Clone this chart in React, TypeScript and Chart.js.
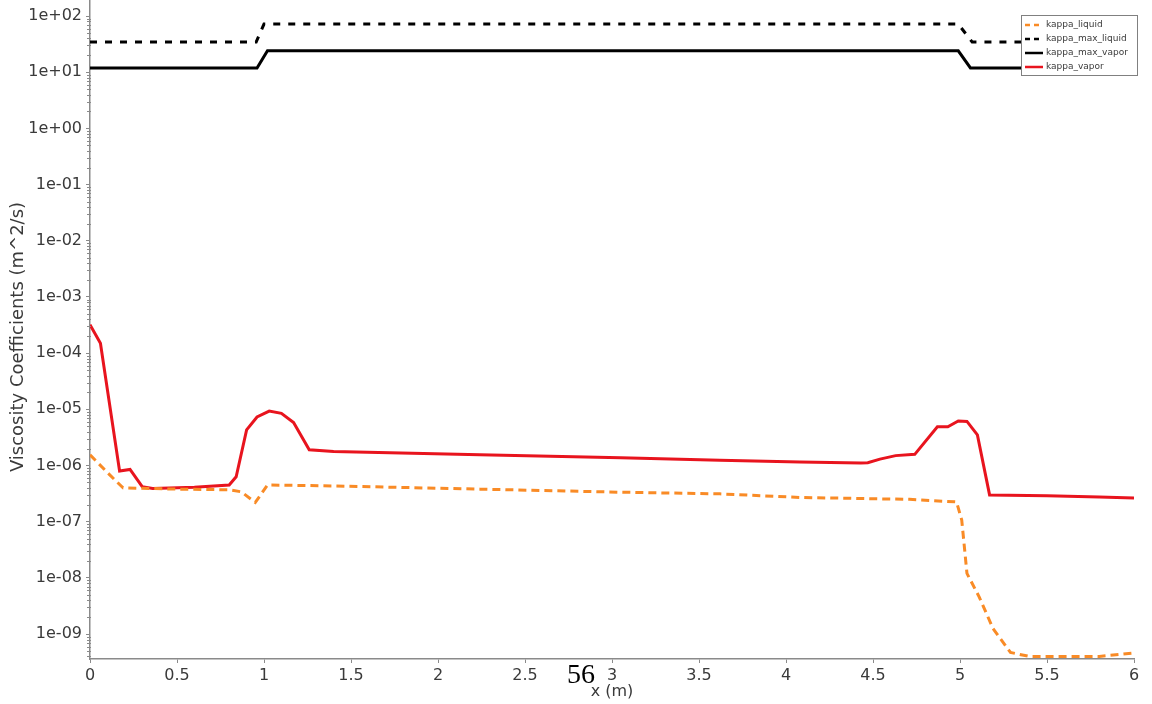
import React, { useEffect, useRef } from 'react';
import { Chart, registerables } from 'chart.js';

Chart.register(...registerables);

// ---- data ----
const vaporX = [0, 0.06, 0.17, 0.23, 0.3, 0.36, 0.6, 0.8, 0.84, 0.9, 0.96, 1.03, 1.1, 1.17, 1.26, 1.4, 2.24, 3.05, 3.62, 4.08, 4.43, 4.47, 4.54, 4.63, 4.74, 4.87, 4.93, 4.99, 5.04, 5.1, 5.17, 5.5, 5.8, 6.0];
const vaporY = [3.2e-4, 1.5e-4, 8.0e-7, 8.5e-7, 4.2e-7, 3.9e-7, 4.1e-7, 4.5e-7, 6.3e-7, 4.3e-6, 7.3e-6, 9.3e-6, 8.5e-6, 5.8e-6, 1.9e-6, 1.77e-6, 1.55e-6, 1.38e-6, 1.24e-6, 1.16e-6, 1.11e-6, 1.12e-6, 1.3e-6, 1.5e-6, 1.58e-6, 4.9e-6, 4.9e-6, 6.2e-6, 6.1e-6, 3.5e-6, 3.0e-7, 2.9e-7, 2.75e-7, 2.65e-7];

const liquidX = [0, 0.1, 0.19, 0.5, 0.8, 0.87, 0.95, 1.02, 1.4, 2.24, 3.05, 3.62, 4.08, 4.71, 4.98, 5.01, 5.04, 5.11, 5.19, 5.29, 5.4, 5.8, 6.0];
const liquidY = [1.55e-6, 7.5e-7, 4.0e-7, 3.8e-7, 3.7e-7, 3.4e-7, 2.2e-7, 4.5e-7, 4.33e-7, 3.8e-7, 3.35e-7, 3.13e-7, 2.7e-7, 2.5e-7, 2.25e-7, 1.07e-7, 1.2e-8, 4.6e-9, 1.25e-9, 4.7e-10, 4.0e-10, 4.0e-10, 4.6e-10];

const maxLiquidX = [0, 0.955, 1.0, 4.99, 5.07, 6.0];
const maxLiquidY = [34.5, 34.5, 72, 72, 34.5, 34.5];

const maxVaporX = [0, 0.96, 1.02, 4.99, 5.06, 6.0];
const maxVaporY = [11.9, 11.9, 24.1, 24.1, 11.9, 11.9];

const seriesNames = ['kappa_liquid', 'kappa_max_liquid', 'kappa_max_vapor', 'kappa_vapor'];

const xTickValues = [0, 0.5, 1, 1.5, 2, 2.5, 3, 3.5, 4, 4.5, 5, 5.5, 6];
const xTickLabels = ['0', '0.5', '1', '1.5', '2', '2.5', '3', '3.5', '4', '4.5', '5', '5.5', '6'];
const yTickValues = [1e-9, 1e-8, 1e-7, 1e-6, 1e-5, 1e-4, 1e-3, 1e-2, 1e-1, 1e0, 1e1, 1e2];
const yTickLabels = ['1e-09', '1e-08', '1e-07', '1e-06', '1e-05', '1e-04', '1e-03', '1e-02', '1e-01', '1e+00', '1e+01', '1e+02'];

const xMin = 0;
const xMax = 6;
const yMin = 3.6e-10;
const yMax = 193;

const xTitle = 'x (m)';
const yTitle = 'Viscosity Coefficients (m^2/s)';
const pageNumber = '56';

const FONT = '"DejaVu Sans", sans-serif';
const TEXT = '#3a3a3a';
const AXIS = '#8a8a8a';

const zip = (xs: number[], ys: number[]) => xs.map((x, i) => ({ x, y: ys[i] }));

const overlayPlugin = {
  id: 'overlay',
  afterDraw(chart: any) {
    const ctx = chart.ctx as CanvasRenderingContext2D;
    const ys = chart.scales.y;
    const ca = chart.chartArea;
    ctx.save();
    // minor log ticks
    ctx.strokeStyle = AXIS;
    ctx.lineWidth = 1;
    for (let k = -10; k <= 2; k++) {
      for (let m = 2; m <= 9; m++) {
        const v = m * Math.pow(10, k);
        if (v < yMin || v > yMax) continue;
        const py = Math.round(ys.getPixelForValue(v)) + 0.5;
        ctx.beginPath();
        ctx.moveTo(ca.left - 3, py);
        ctx.lineTo(ca.left + 1, py);
        ctx.stroke();
      }
    }
    // y title
    ctx.fillStyle = TEXT;
    ctx.font = `18px ${FONT}`;
    ctx.textAlign = 'center';
    ctx.textBaseline = 'middle';
    ctx.save();
    ctx.translate(18, 337);
    ctx.rotate(-Math.PI / 2);
    ctx.fillText(yTitle, 0, 0);
    ctx.restore();
    // x title
    ctx.font = `16px ${FONT}`;
    ctx.fillText(xTitle, 612, 692);
    // page number
    ctx.fillStyle = '#000';
    ctx.font = '28px "Liberation Serif", serif';
    ctx.fillText(pageNumber, 581, 676);

    // legend
    const lx = 1021, ly = 15, lw = 116, lh = 60;
    ctx.fillStyle = '#fff';
    ctx.fillRect(lx, ly, lw, lh);
    ctx.strokeStyle = '#808080';
    ctx.lineWidth = 1;
    ctx.strokeRect(lx + 0.5, ly + 0.5, lw, lh);
    const rows = [25, 39, 53, 67];
    chart.data.datasets.forEach((ds: any, i: number) => {
      const y = rows[i];
      ctx.strokeStyle = ds.borderColor;
      ctx.lineWidth = 2.5;
      ctx.setLineDash(ds.borderDash && ds.borderDash.length ? [5, 4] : []);
      ctx.beginPath();
      ctx.moveTo(1025, y);
      ctx.lineTo(1043, y);
      ctx.stroke();
      ctx.setLineDash([]);
      ctx.fillStyle = TEXT;
      ctx.font = `9px ${FONT}`;
      ctx.textAlign = 'left';
      ctx.textBaseline = 'middle';
      ctx.fillText(ds.label, 1046, y);
    });
    ctx.restore();
  },
};

export default function App() {
  const ref = useRef<HTMLCanvasElement | null>(null);
  useEffect(() => {
    if (!ref.current) return;
    const chart = new Chart(ref.current, {
      type: 'line',
      data: {
        datasets: [
          { label: seriesNames[0], data: zip(liquidX, liquidY), borderColor: '#f98b26', borderWidth: 3, borderDash: [8, 5], pointRadius: 0, tension: 0 },
          { label: seriesNames[1], data: zip(maxLiquidX, maxLiquidY), borderColor: '#000000', borderWidth: 3, borderDash: [7, 8], pointRadius: 0, tension: 0 },
          { label: seriesNames[2], data: zip(maxVaporX, maxVaporY), borderColor: '#000000', borderWidth: 3, pointRadius: 0, tension: 0 },
          { label: seriesNames[3], data: zip(vaporX, vaporY), borderColor: '#e8141e', borderWidth: 3, pointRadius: 0, tension: 0 },
        ],
      },
      options: {
        responsive: false,
        animation: false,
        devicePixelRatio: 1,
        layout: { padding: { top: 0, right: 18, bottom: 0, left: 0 } },
        plugins: { legend: { display: false }, tooltip: { enabled: false } },
        scales: {
          x: {
            type: 'linear',
            min: xMin,
            max: xMax,
            afterBuildTicks: (s: any) => { s.ticks = xTickValues.map((v) => ({ value: v })); },
            afterFit: (s: any) => { s.height = 45; s.paddingLeft = 0; s.paddingRight = 0; },
            ticks: {
              autoSkip: false,
              maxRotation: 0,
              padding: 3,
              color: TEXT,
              font: { family: FONT, size: 16 },
              callback: (_v: any, i: number) => xTickLabels[i],
            },
            grid: { display: true, drawOnChartArea: false, tickLength: 4, color: AXIS },
            border: { color: AXIS, width: 1.5 },
          },
          y: {
            type: 'logarithmic',
            min: yMin,
            max: yMax,
            afterBuildTicks: (s: any) => { s.ticks = yTickValues.map((v) => ({ value: v })); },
            afterFit: (s: any) => { s.width = 90; s.paddingTop = 0; s.paddingBottom = 0; },
            ticks: {
              autoSkip: false,
              padding: 4,
              color: TEXT,
              font: { family: FONT, size: 16 },
              callback: (_v: any, i: number) => yTickLabels[i],
            },
            grid: { display: true, drawOnChartArea: false, tickLength: 4, color: AXIS },
            border: { color: AXIS, width: 1.5 },
          },
        },
      },
      plugins: [overlayPlugin],
    } as any);
    return () => chart.destroy();
  }, []);
  return (
    <div style={{ position: 'fixed', left: 0, top: 0, width: 1152, height: 704, background: '#fff' }}>
      <canvas ref={ref} width={1152} height={704} />
    </div>
  );
}
